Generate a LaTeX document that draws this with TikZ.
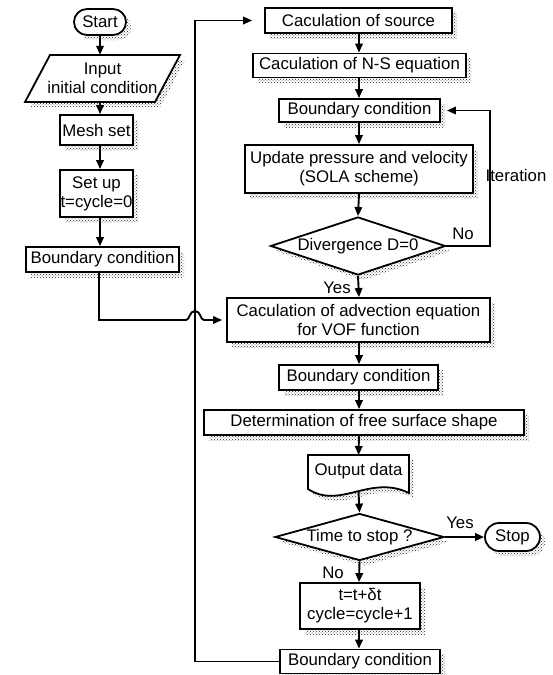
\documentclass[tikz,border=0pt]{standalone}
\usepackage{fontspec}
\setmainfont{Liberation Sans}
\usetikzlibrary{shapes.geometric,arrows.meta,calc,patterns}
\begin{document}
\begin{tikzpicture}[x=1pt,y=-1pt,
  font=\fontsize{16.8}{19}\selectfont,
  shd/.style={pattern=crosshatch dots, pattern color=black!85},
  box/.style={draw, line width=1.8pt, fill=white, inner sep=0pt, align=center},
  arr/.style={line width=1.9pt, -{Triangle[length=9pt,width=7.5pt]}},
  lbl/.style={inner sep=0pt, align=center}]
\useasboundingbox (0,0) rectangle (553,675);

% ---------- shadows (drawn first, offset to the lower right) ----------
\begin{scope}[shift={(5,5)}]
  \path[shd, rounded corners=13pt] (74,9) rectangle (126,35);
  \path[shd] (50,55) -- (180,55) -- (155,102) -- (25,102) -- cycle;
  \path[shd] (60,115) rectangle (133,145);
  \path[shd] (60,170) rectangle (133,217);
  \path[shd] (26,247) rectangle (179,272);
  \path[shd] (265,8) rectangle (452,33);
  \path[shd] (253,53.5) rectangle (466,77.5);
  \path[shd] (279,99) rectangle (440,122);
  \path[shd] (245,145) rectangle (473,193);
  \path[shd] (270.5,246) -- (358,217) -- (445.5,246) -- (358,275) -- cycle;
  \path[shd] (227,298) rectangle (490,342);
  \path[shd] (279,365) rectangle (438,390);
  \path[shd] (204,410) rectangle (524,435);
  \path[shd] (308,455) -- (409,455) -- (409,493) .. controls (370,474) and (340,510) .. (308,489) -- cycle;
  \path[shd] (275,537) -- (359.5,513.5) -- (444,537) -- (359.5,560.5) -- cycle;
  \path[shd, rounded corners=14pt] (485,523) rectangle (540,551);
  \path[shd] (300,583) rectangle (420,629);
  \path[shd] (280,649.5) rectangle (440,673.5);
\end{scope}

% ---------- left column ----------
\node[box, rounded corners=13pt, minimum width=52, minimum height=26] (start) at (100,22) {Start};

\draw[line width=1.8pt, fill=white] (50,55) -- (180,55) -- (155,102) -- (25,102) -- cycle;
\node[lbl, minimum height=47] (input) at (102.5,78.5) {Input\\initial condition};

\node[box, minimum width=73, minimum height=30] (mesh) at (96.5,130) {Mesh set};
\node[box, minimum width=73, minimum height=47] (setup) at (96.5,193.5) {Set up\\t=cycle=0};
\node[box, minimum width=153, minimum height=25] (bcA) at (102.5,259.5) {Boundary condition};

% ---------- right column ----------
\node[box, minimum width=187, minimum height=25] (src) at (358.5,20.5) {Caculation of source};
\node[box, minimum width=213, minimum height=24] (ns) at (359.5,65.5) {Caculation of N-S equation};
\node[box, minimum width=161, minimum height=23] (bcB) at (359.5,110.5) {Boundary condition};
\node[box, minimum width=228, minimum height=48] (upd) at (359,169) {Update pressure and velocity\\(SOLA scheme)};
\node[box, diamond, aspect=3, minimum width=175, minimum height=58] (div) at (358,246) {Divergence D=0};
\node[box, minimum width=263, minimum height=44] (adv) at (358.5,320) {Caculation of advection equation\\for VOF function};
\node[box, minimum width=159, minimum height=25] (bcC) at (358.5,377.5) {Boundary condition};
\node[box, minimum width=320, minimum height=25] (det) at (364,422.5) {Determination of free surface shape};

% output data (document shape)
\draw[line width=1.8pt, fill=white] (308,455) -- (409,455) -- (409,493) .. controls (370,474) and (340,510) .. (308,489) -- cycle;
\node[lbl] (out) at (358.5,471) {Output data};
\coordinate (outT) at (358.5,455);
\coordinate (outB) at (358.5,491);

\node[box, diamond, aspect=3.6, minimum width=169, minimum height=47] (stopq) at (359.5,537) {Time to stop ?};
\node[box, rounded corners=14pt, minimum width=55, minimum height=28] (stop) at (512.5,537) {Stop};
\node[box, minimum width=120, minimum height=46] (tinc) at (360,606) {t=t+δt\\cycle=cycle+1};
\node[box, minimum width=160, minimum height=24] (bcD) at (360,661.5) {Boundary condition};

% ---------- labels ----------
\node[lbl] (iter) at (516,175) {Iteration};
\node[lbl] (no1) at (463,234) {No};
\node[lbl] (yes1) at (337,288) {Yes};
\node[lbl] (yes2) at (460,523) {Yes};
\node[lbl] (no2) at (333,573) {No};

% ---------- connectors ----------
\draw[arr] (start.south) -- (start.south |- input.north);
\draw[arr] (start.south |- input.south) -- (start.south |- mesh.north);
\draw[arr] (start.south |- mesh.south) -- (start.south |- setup.north);
\draw[arr] (start.south |- setup.south) -- (start.south |- bcA.north);

\coordinate (rc) at (359,0);
\draw[arr] (rc |- src.south) -- (rc |- ns.north);
\draw[arr] (rc |- ns.south) -- (rc |- bcB.north);
\draw[arr] (rc |- bcB.south) -- (rc |- upd.north);
\draw[arr] (rc |- upd.south) -- (div.north);
\draw[arr] (div.south) -- (rc |- adv.north);
\draw[arr] (rc |- adv.south) -- (rc |- bcC.north);
\draw[arr] (rc |- bcC.south) -- (rc |- det.north);
\draw[arr] (rc |- det.south) -- (outT);
\draw[arr] (outB) -- (stopq.north);
\draw[arr] (stopq.south) -- (rc |- tinc.north);
\draw[arr] (rc |- tinc.south) -- (rc |- bcD.north);
\draw[arr, line width=2.4pt] (stopq.east) -- (stop.west);

% iteration loop
\coordinate (loopR) at (490,246);
\draw[arr, shorten >=6pt] (div.east) -- (loopR) |- (bcB.east);

% return loop
\coordinate (retT) at (195,20.5);
\draw[arr, shorten >=12pt] (bcD.west) -| (retT) -- (src.west);

% line from left column with a hop over the return line
\coordinate (jL) at (99,320);
\coordinate (cross) at (retT |- adv.west);
\draw[arr, shorten >=4pt] (jL |- bcA.south) -- (jL) -- ($(cross)+(-9,0)$)
  .. controls ($(cross)+(-5,0)$) and ($(cross)+(-6,-9)$) .. ($(cross)+(0,-9)$)
  .. controls ($(cross)+(6,-9)$) and ($(cross)+(5,0)$) .. ($(cross)+(9,0)$)
  -- (adv.west);
\end{tikzpicture}
\end{document}
